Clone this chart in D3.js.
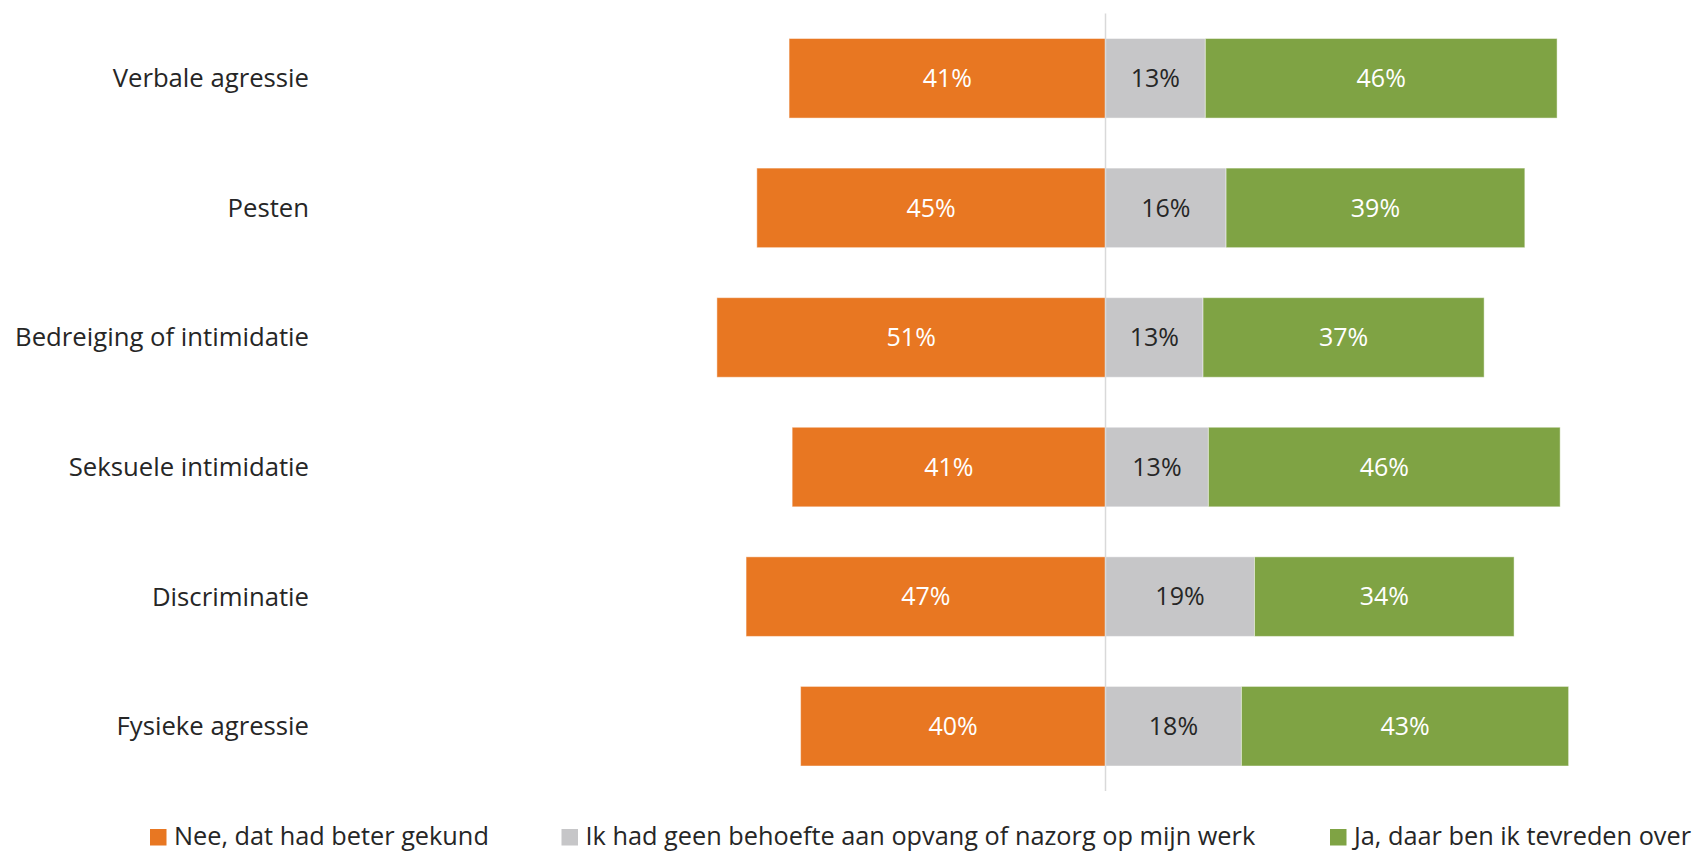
<!DOCTYPE html>
<html>
<head>
<meta charset="utf-8">
<script src="https://cdn.jsdelivr.net/npm/d3@7"></script>
<style>
  html, body { margin: 0; padding: 0; background: #ffffff; }
  svg { display: block; font-family: "Open Sans", "Noto Sans", sans-serif; }
</style>
</head>
<body>
<svg id="chart" width="1703" height="851"></svg>
<script>
const categories = ["Verbale agressie", "Pesten", "Bedreiging of intimidatie", "Seksuele intimidatie", "Discriminatie", "Fysieke agressie"];
const seriesNames = ["Nee, dat had beter gekund", "Ik had geen behoefte aan opvang of nazorg op mijn werk", "Ja, daar ben ik tevreden over"];
const nee = [41.2, 45.4, 50.6, 40.8, 46.8, 39.7];
const geen = [13.0, 15.7, 12.7, 13.4, 19.4, 17.7];
const ja = [45.8, 38.9, 36.6, 45.8, 33.8, 42.6];
const colors = ["#E87722", "#C6C6C8", "#7FA344"];
const labelColors = ["#ffffff", "#262626", "#ffffff"];

const svg = d3.select("#chart");
const cx = 1105.5, unit = 7.68;

const x = d3.scaleLinear().domain([-60, 60]).range([cx - 60 * unit, cx + 60 * unit]);
const y = d3.scaleBand().domain(categories).range([13.5, 791]).paddingInner(0.386).paddingOuter(0.193);

// build segments: nee to the left of 0, geen + ja to the right
const segs = [];
categories.forEach((c, i) => {
  segs.push({cat: c, s: 0, x0: -nee[i], x1: 0, v: nee[i]});
  segs.push({cat: c, s: 1, x0: 0, x1: geen[i], v: geen[i]});
  segs.push({cat: c, s: 2, x0: geen[i], x1: geen[i] + ja[i], v: ja[i]});
});

svg.append("g").selectAll("rect").data(segs).join("rect")
  .attr("x", d => x(d.x0))
  .attr("y", d => y(d.cat))
  .attr("width", d => x(d.x1) - x(d.x0))
  .attr("height", y.bandwidth())
  .attr("fill", d => colors[d.s])
  .attr("stroke", "#ffffff")
  .attr("stroke-opacity", 0.45)
  .attr("stroke-width", 1);

// center axis line
svg.append("line")
  .attr("x1", x(0)).attr("x2", x(0))
  .attr("y1", y.range()[0]).attr("y2", y.range()[1])
  .attr("stroke", "#D9D9D9").attr("stroke-width", 1.5);

// value labels
svg.append("g").selectAll("text").data(segs).join("text")
  .attr("x", d => (x(d.x0) + x(d.x1)) / 2)
  .attr("y", d => y(d.cat) + y.bandwidth() / 2)
  .attr("dy", "0.35em")
  .attr("text-anchor", "middle")
  .attr("font-size", 25)
  .attr("fill", d => labelColors[d.s])
  .text(d => Math.round(d.v) + "%");

// category axis labels
const yAxis = d3.axisLeft(y).tickSize(0).tickPadding(0);
const ag = svg.append("g").attr("transform", "translate(309,0)").call(yAxis);
ag.select(".domain").remove();
ag.selectAll("text")
  .attr("font-family", "'Open Sans', 'Noto Sans', sans-serif")
  .attr("font-size", 25.7)
  .attr("fill", "#262626")
  .attr("dy", "0.35em");

// legend
const legendX = [150, 561.5, 1330];
const lg = svg.append("g").selectAll("g").data(seriesNames).join("g")
  .attr("transform", (d, i) => `translate(${legendX[i]},0)`);
lg.append("rect").attr("x", 0).attr("y", 829).attr("width", 16.5).attr("height", 16.5)
  .attr("fill", (d, i) => colors[i]);
lg.append("text").attr("x", 24).attr("y", 845)
  .attr("font-size", 25.3).attr("fill", "#262626")
  .text(d => d);
</script>
</body>
</html>
